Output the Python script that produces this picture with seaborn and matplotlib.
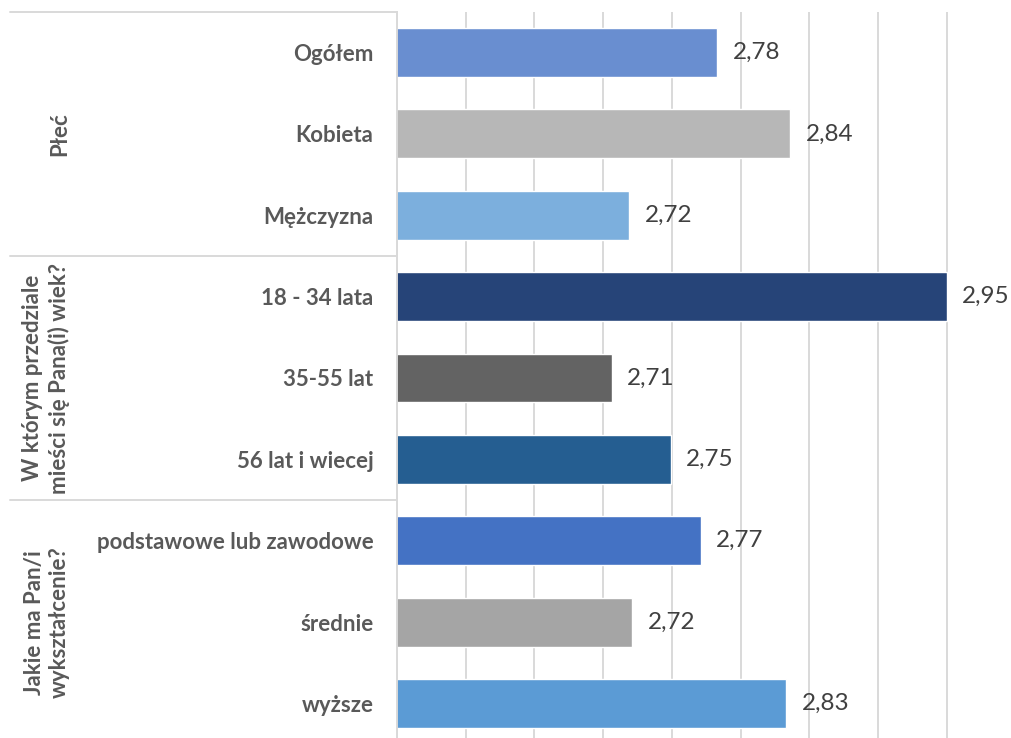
import matplotlib
matplotlib.use('Agg')
import matplotlib.pyplot as plt
import matplotlib.transforms as mtransforms
import numpy as np
import pandas as pd
import seaborn as sns

# chart data (bar lengths, labels show 2 decimals)
categories = ['Ogółem', 'Kobieta', 'Mężczyzna',
              '18 - 34 lata', '35-55 lat', '56 lat i wiecej',
              'podstawowe lub zawodowe', 'średnie', 'wyższe']
values = [2.783, 2.836, 2.719, 2.950, 2.706, 2.749, 2.771, 2.721, 2.833]
groups = ['Płeć', 'W którym przedziale\nmieści się Pana(i) wiek?', 'Jakie ma Pan/i\nwykształcenie?']
group_sizes = [3, 3, 3]
colors = ['#698ED0', '#B7B7B7', '#7CAFDD', '#264478', '#636363',
          '#255E91', '#4472C4', '#A5A5A5', '#5B9BD5']

sns.set_theme(style='white')
plt.rcParams['font.family'] = ['Lato', 'DejaVu Sans']

W, H = 1012, 738
fig = plt.figure(figsize=(W / 100, H / 100), dpi=100)
# plot area: left at 397px, x=3.0 gridline falls just past the right edge
ax = fig.add_axes([397 / W, (H - 744.2) / H, (1015.75 - 397) / W, 732.4 / H])

df = pd.DataFrame({'cat': categories, 'val': values})
sns.barplot(data=df, y='cat', x='val', hue='cat', palette=colors,
            legend=False, width=0.6, saturation=1, ax=ax, orient='h')

ax.set_xlim(2.55, 3.0)
ax.set_ylim(len(categories) - 0.5, -0.5)
ax.set_xticks(np.arange(2.55, 3.001, 0.05))
ax.tick_params(axis='x', length=0, labelbottom=False)
ax.grid(axis='x', color='#D9D9D9', lw=1.4)
ax.set_axisbelow(True)
for s in ['top', 'right', 'bottom']:
    ax.spines[s].set_visible(False)
ax.spines['left'].set_color('#D9D9D9')
ax.spines['left'].set_linewidth(1.4)
ax.set_xlabel('')
ax.set_ylabel('')

ax.tick_params(axis='y', length=0, pad=17, labelsize=16, labelcolor='#595959')
for lbl in ax.get_yticklabels():
    lbl.set_fontweight('bold')

# value labels
for cont in ax.containers:
    labels = [f'{v:.2f}'.replace('.', ',') for v in cont.datavalues]
    ax.bar_label(cont, labels=labels, padding=11, fontsize=17.5, color='#404040')

# group separators and group labels on the left
trans = mtransforms.blended_transform_factory(ax.transAxes, ax.transData)
px = lambda p: (p - 397) / (1015.75 - 397)
start = -0.5
ax.plot([px(10), 0], [start, start], color='#D9D9D9', lw=1.4, transform=trans, clip_on=False)
for g, n in zip(groups, group_sizes):
    end = start + n
    ax.plot([px(10), 0], [end, end], color='#D9D9D9', lw=1.4, transform=trans, clip_on=False)
    ax.text(px(70), (start + end) / 2, g, transform=trans, rotation=90,
            ha='right', va='center', multialignment='center', linespacing=1.25,
            fontsize=16, fontweight='bold', color='#595959')
    start = end

fig.savefig('out.png', dpi=100)
